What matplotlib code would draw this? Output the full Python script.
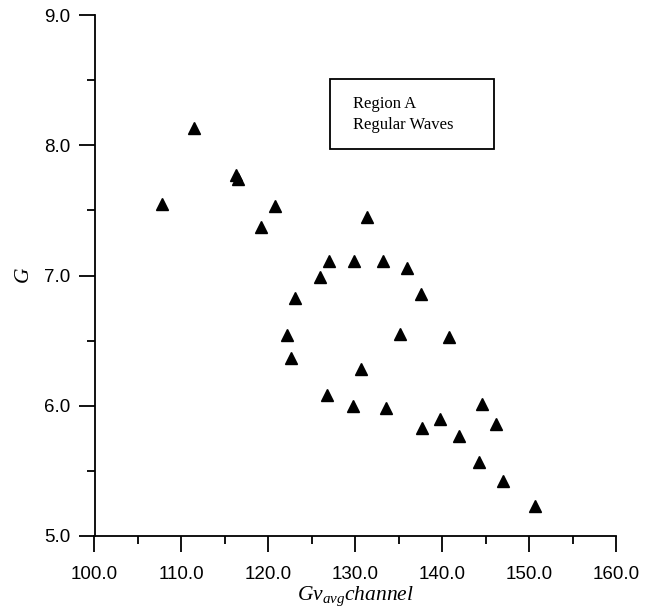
import matplotlib
matplotlib.use("Agg")
import matplotlib.pyplot as plt
from matplotlib.patches import Rectangle
from matplotlib.ticker import MultipleLocator, FormatStrFormatter

plt.rcParams['font.family'] = ['Liberation Sans', 'DejaVu Sans']
plt.rcParams['mathtext.fontset'] = 'custom'
plt.rcParams['mathtext.it'] = 'Liberation Serif:italic'
plt.rcParams['mathtext.rm'] = 'Liberation Serif'

gv = [107.8, 111.4, 116.25, 116.55, 120.8, 119.2, 131.3, 127.0, 129.9, 133.2,
      135.9, 126.0, 137.6, 123.1, 122.2, 135.2, 140.8, 122.6, 130.7, 126.8,
      129.7, 133.5, 137.7, 139.7, 141.9, 144.6, 144.2, 146.2, 147.0, 150.7]
g = [7.55, 8.13, 7.77, 7.74, 7.53, 7.37, 7.45, 7.11, 7.11, 7.11,
     7.06, 6.99, 6.86, 6.83, 6.54, 6.55, 6.525, 6.37, 6.28, 6.08,
     6.00, 5.98, 5.83, 5.90, 5.77, 6.01, 5.57, 5.86, 5.42, 5.23]

W, H = 655, 612
fig = plt.figure(figsize=(W / 100, H / 100), dpi=100)
ax = fig.add_axes([94.5 / W, 1 - 536 / H, (616 - 94.5) / W, (536 - 15) / H])

ax.plot(gv, g, linestyle='none', marker='^', ms=8, color='black', mec='black')

ax.set_xlim(100, 160)
ax.set_ylim(5, 9)
ax.xaxis.set_major_locator(MultipleLocator(10))
ax.xaxis.set_minor_locator(MultipleLocator(5))
ax.yaxis.set_major_locator(MultipleLocator(1))
ax.yaxis.set_minor_locator(MultipleLocator(0.5))
ax.xaxis.set_major_formatter(FormatStrFormatter('%.1f'))
ax.yaxis.set_major_formatter(FormatStrFormatter('%.1f'))

for s in ['top', 'right']:
    ax.spines[s].set_visible(False)
for s in ['left', 'bottom']:
    ax.spines[s].set_linewidth(1.3)

ax.tick_params(which='major', direction='out', length=11.5, width=1.3,
               labelsize=13.5)
ax.tick_params(axis='x', which='major', pad=10)
ax.tick_params(axis='y', which='major', pad=6)
ax.tick_params(which='minor', direction='out', length=5.8, width=1.3)

ax.set_xlabel(r'$Gv_{avg}channel$', fontsize=15.5, labelpad=1)
ax.set_ylabel(r'$G$', fontsize=15.5, labelpad=7)

fig.patches.append(Rectangle((330 / W, 1 - 149 / H), (494 - 330) / W, (149 - 79) / H,
                             transform=fig.transFigure, fill=False,
                             edgecolor='black', linewidth=1.3))
fig.text(353 / W, 1 - 108 / H, 'Region A', family='Liberation Serif',
         fontsize=12, va='baseline', ha='left')
fig.text(353 / W, 1 - 129 / H, 'Regular Waves', family='Liberation Serif',
         fontsize=12, va='baseline', ha='left')

fig.savefig('out.png', dpi=100)
